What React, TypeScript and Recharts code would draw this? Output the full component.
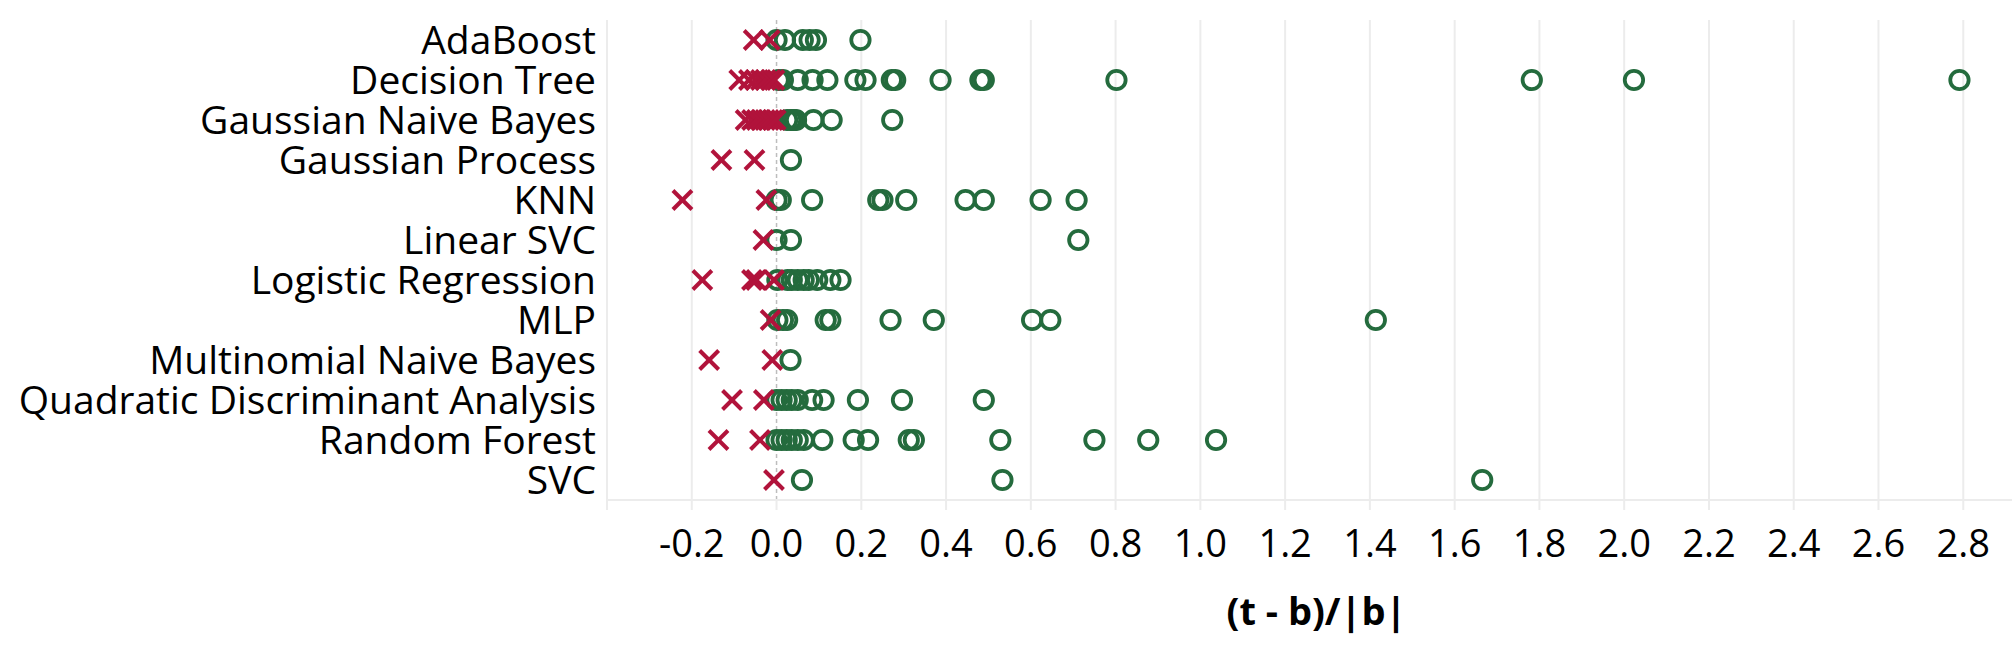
import React from "react";
import { ScatterChart, Scatter, XAxis, YAxis, ReferenceLine } from "recharts";

const categories = [
  "AdaBoost",
  "Decision Tree",
  "Gaussian Naive Bayes",
  "Gaussian Process",
  "KNN",
  "Linear SVC",
  "Logistic Regression",
  "MLP",
  "Multinomial Naive Bayes",
  "Quadratic Discriminant Analysis",
  "Random Forest",
  "SVC",
];

// improvements (drawn as circles), per model in category order
const improved: number[][] = [
  [0.0, 0.02, 0.062, 0.078, 0.093, 0.198],
  [0.005, 0.015, 0.05, 0.085, 0.12, 0.186, 0.21, 0.272, 0.28, 0.387, 0.481, 0.489, 0.802, 1.782, 2.023, 2.791],
  [0.025, 0.034, 0.04, 0.046, 0.087, 0.13, 0.273],
  [0.034],
  [0.0, 0.01, 0.084, 0.24, 0.25, 0.306, 0.446, 0.489, 0.623, 0.708],
  [0.0, 0.034, 0.712],
  [0.002, 0.026, 0.036, 0.05, 0.064, 0.076, 0.096, 0.127, 0.151],
  [0.002, 0.015, 0.025, 0.116, 0.127, 0.269, 0.371, 0.603, 0.646, 1.414],
  [0.033],
  [0.0, 0.012, 0.024, 0.036, 0.05, 0.084, 0.111, 0.192, 0.296, 0.489],
  [0.0, 0.012, 0.024, 0.036, 0.05, 0.064, 0.108, 0.182, 0.216, 0.312, 0.324, 0.528, 0.75, 0.877, 1.037],
  [0.06, 0.533, 1.665],
];

// degradations (drawn as crosses), per model in category order
const degraded: number[][] = [
  [-0.054, -0.016],
  [-0.088, -0.065, -0.05, -0.037, -0.026, -0.014, -0.005],
  [-0.073, -0.058, -0.047, -0.037, -0.027, -0.018, -0.009, -0.002],
  [-0.13, -0.052],
  [-0.222, -0.024],
  [-0.031],
  [-0.175, -0.058, -0.048, -0.006],
  [-0.014],
  [-0.159, -0.01],
  [-0.105, -0.03],
  [-0.137, -0.039],
  [-0.006],
];

const xTicks = [-0.4, -0.2, 0, 0.2, 0.4, 0.6, 0.8, 1.0, 1.2, 1.4, 1.6, 1.8, 2.0, 2.2, 2.4, 2.6, 2.8];
const xDomain = [-0.4, 2.915];
const axisTitle = "(t - b)/|b|";

const circlePoints = improved.flatMap((vals, i) => vals.map((v) => ({ x: v, y: i })));
const crossPoints = degraded.flatMap((vals, i) => vals.map((v) => ({ x: v, y: i })));

const GREEN = "#246b3d";
const RED = "#b1133b";
const GRID = "#ececec";
const FONT = "'Open Sans', sans-serif";

const Ring = (props: any) => (
  <circle cx={props.cx} cy={props.cy} r={9.2} fill="none" stroke={GREEN} strokeWidth={3.8} />
);

const Cross = (props: any) => {
  const { cx, cy } = props;
  const h = 9.5;
  return (
    <g stroke={RED} strokeWidth={4} strokeLinecap="butt">
      <line x1={cx - h} y1={cy - h} x2={cx + h} y2={cy + h} />
      <line x1={cx - h} y1={cy + h} x2={cx + h} y2={cy - h} />
    </g>
  );
};

export default function App() {
  return (
    <div style={{ position: "absolute", left: 0, top: 0, width: 2012, height: 656, background: "#fff" }}>
      <ScatterChart width={2012} height={656} margin={{ top: 20, right: 0, bottom: 0, left: 0 }}>
        <XAxis
          type="number"
          dataKey="x"
          domain={xDomain}
          ticks={xTicks}
          allowDataOverflow
          interval={0}
          height={156}
          tickFormatter={(v: number) => (Math.abs(v + 0.4) < 1e-9 ? "" : v.toFixed(1))}
          axisLine={{ stroke: GRID, strokeWidth: 2 }}
          tickLine={{ stroke: GRID, strokeWidth: 2 }}
          tickSize={10}
          tickMargin={20}
          tick={{ fill: "#000", fontSize: 38, fontWeight: 500, fontFamily: FONT }}
          label={{
            value: axisTitle,
            position: "insideBottom",
            offset: 31,
            dx: 7,
            style: { fill: "#000", fontSize: 38, fontWeight: 700, fontFamily: FONT },
          }}
        />
        <YAxis
          type="number"
          dataKey="y"
          domain={[-0.5, 11.5]}
          reversed
          ticks={categories.map((_, i) => i)}
          interval={0}
          width={607}
          axisLine={false}
          tickLine={false}
          tickSize={0}
          tickMargin={11}
          tickFormatter={(v: number) => categories[v] ?? ""}
          tick={{ fill: "#000", fontSize: 39, fontWeight: 500, fontFamily: FONT }}
        />
        {xTicks
          .filter((t) => t !== 0)
          .map((t) => (
            <ReferenceLine key={t} x={t} stroke={GRID} strokeWidth={2} ifOverflow="extendDomain" />
          ))}
        <ReferenceLine x={0} stroke="#bdbdbd" strokeWidth={1.5} strokeDasharray="4 3" />
        <Scatter data={circlePoints} shape={Ring} isAnimationActive={false} />
        <Scatter data={crossPoints} shape={Cross} isAnimationActive={false} />
      </ScatterChart>
    </div>
  );
}
